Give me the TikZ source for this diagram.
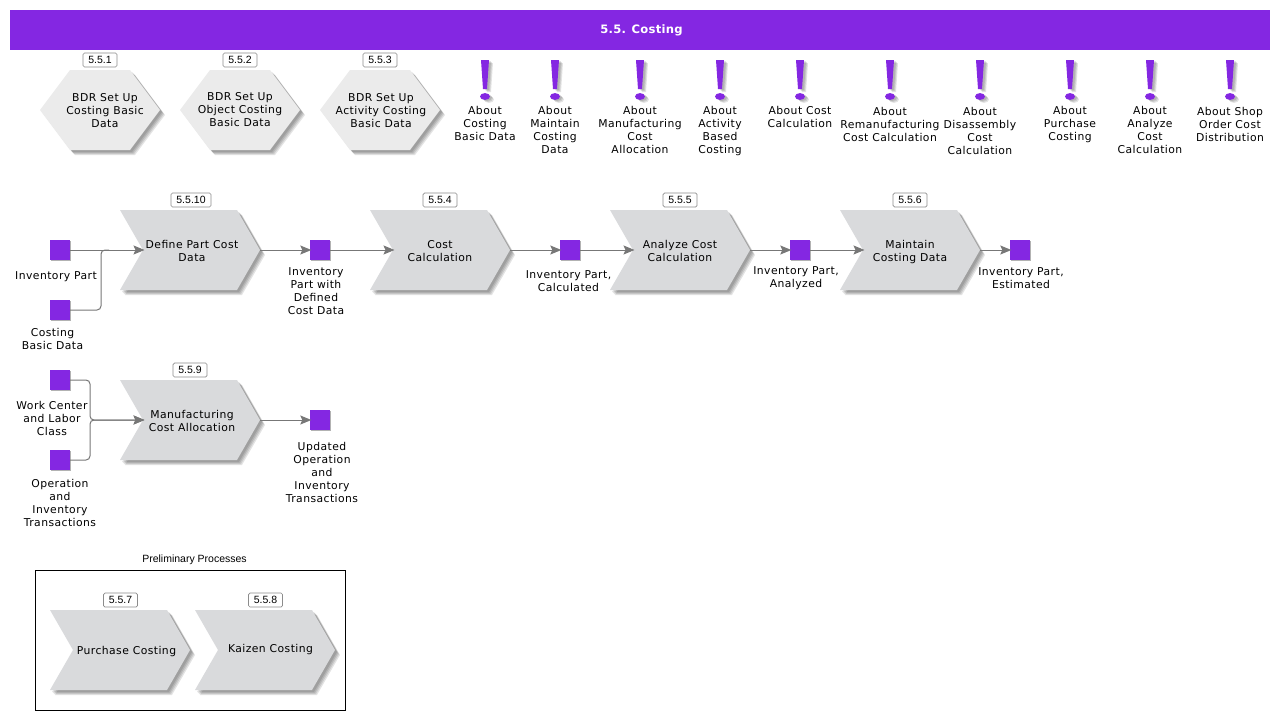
\documentclass[tikz,border=0pt]{standalone}
\usepackage{fontspec}
\setmainfont{DejaVu Sans}[LetterSpace=4]
\newfontfamily\titlefont{DejaVu Sans}[LetterSpace=2]
\newfontfamily\tagfont{Liberation Sans}
\usetikzlibrary{arrows.meta,calc}
\definecolor{brand}{HTML}{8427E2}
\definecolor{chevfill}{HTML}{D9DADC}
\definecolor{hexfill}{HTML}{EBEBEB}
\definecolor{wire}{HTML}{777777}
\tikzset{
  lab/.style={align=center,inner sep=0pt,font=\fontsize{10.8}{13}\selectfont,text=black},
  tagbox/.style={draw=black!45,fill=white,rounded corners=1.5pt,line width=.7pt,minimum height=14pt,inner sep=0pt,font=\tagfont\fontsize{10.5}{12}\selectfont},
  wired/.style={draw=wire,line width=1pt,-{Stealth[length=11pt,width=9pt,inset=2pt,fill=wire]},rounded corners=4pt,shorten >=-1.5pt},
  wireplain/.style={draw=wire,line width=1pt,rounded corners=4pt},
  sq/.style={fill=brand,draw=none,minimum size=20pt,inner sep=0pt},
  softlayer/.style={fill=black,opacity=.11}
}
\newcommand\softshadow[1]{%
  \foreach \sd in {2,3,4,5}{\fill[softlayer,xshift=\sd pt,yshift=-\sd pt] #1;}%
}
\newcommand\softsmall[1]{%
  \foreach \sd in {1,2,3}{\fill[softlayer,xshift=\sd pt+1pt,yshift=-\sd pt] #1;}%
}
% name, left x, top y, text x, text y, text
\newcommand\chev[6]{%
  \softshadow{(#2,#3)--++(117,0)--++(23,40)--++(-23,40)--++(-117,0)--++(23,-40)--cycle}
  \fill[chevfill] (#2,#3)--++(117,0)--++(23,40)--++(-23,40)--++(-117,0)--++(23,-40)--cycle;
  \coordinate (#1-in) at ($(#2,#3)+(23,40)$);
  \coordinate (#1-out) at ($(#2,#3)+(140,40)$);
  \node[lab] (#1-text) at (#4,#5) {#6};
}
\newcommand\hexa[5]{%
  \softshadow{(#2,110)--++(30,-40)--++(60,0)--++(30,40)--++(-30,40)--++(-60,0)--cycle}
  \fill[hexfill] (#2,110)--++(30,-40)--++(60,0)--++(30,40)--++(-30,40)--++(-60,0)--cycle;
  \node[lab] (#1) at (#3,#4) {#5};
}
\newcommand\tagg[4]{\node[tagbox,minimum width=#3pt] (#1) at (#2) {#4};}
\newcommand\bang[4]{%
  \softsmall{(#2-4,60)--(#2+4,60)--(#2+2,89)--(#2-2,89)--cycle}
  \softsmall{(#2,96.5) ellipse (5 and 3.4)}
  \fill[brand] (#2-4,60)--(#2+4,60)--(#2+2,89)--(#2-2,89)--cycle;
  \fill[brand] (#2,96.5) ellipse (5 and 3.4);
  \node[lab] (#1-text) at (#2,#3) {#4};
}
\newcommand\obj[3]{%
  \fill[black!30] (#2-9,#3-9) rectangle (#2+11,#3+11);
  \node[sq] (#1) at (#2,#3) {};
}
\begin{document}
\begin{tikzpicture}[x=1pt,y=-1pt]
\useasboundingbox (0,0) rectangle (1280,720);
\fill[white] (0,0) rectangle (1280,720);
\node[fill=brand,minimum width=1260pt,minimum height=40pt,inner sep=0pt] (titlebar) at (640,30) {};
\node[text=white,inner sep=0pt,font=\titlefont\fontsize{11.6}{14}\selectfont\bfseries] (title) at (641.5,30.5) {5.5. Costing};

\hexa{h1}{40}{105}{110.5}{BDR Set Up\\Costing Basic\\Data}
\hexa{h2}{180}{240}{109.5}{BDR Set Up\\Object Costing\\Basic Data}
\hexa{h3}{320}{381}{110.5}{BDR Set Up\\Activity Costing\\Basic Data}
\tagg{t1}{100,60}{34}{5.5.1}
\tagg{t2}{240,60}{34}{5.5.2}
\tagg{t3}{380,60}{34}{5.5.3}

\bang{b1}{485}{123}{About\\Costing\\Basic Data}
\bang{b2}{555}{129.5}{About\\Maintain\\Costing\\Data}
\bang{b3}{640}{129.5}{About\\Manufacturing\\Cost\\Allocation}
\bang{b4}{720}{131.5}{About\\Activity\\Based\\Costing}
\bang{b5}{800}{116.5}{About Cost\\Calculation}
\bang{b6}{890}{124.5}{About\\Remanufacturing\\Cost Calculation}
\bang{b7}{980}{130.5}{About\\Disassembly\\Cost\\Calculation}
\bang{b8}{1070}{125}{About\\Purchase\\Costing}
\bang{b9}{1150}{129.5}{About\\Analyze\\Cost\\Calculation}
\bang{b10}{1230}{124.5}{About Shop\\Order Cost\\Distribution}

\chev{c10}{120}{210}{192}{251}{Define Part Cost\\Data}
\chev{c4}{370}{210}{440}{251}{Cost\\Calculation}
\chev{c5}{610}{210}{680}{251}{Analyze Cost\\Calculation}
\chev{c6}{840}{210}{910}{252}{Maintain\\Costing Data}
\chev{c9}{120}{380}{192}{421}{Manufacturing\\Cost Allocation}
\tagg{t10}{191,200}{40}{5.5.10}
\tagg{t4}{440,200}{34}{5.5.4}
\tagg{t5}{680,200}{34}{5.5.5}
\tagg{t6}{910,200}{34}{5.5.6}
\tagg{t9}{190,370}{34}{5.5.9}

\obj{o1}{60}{250}
\obj{o2}{60}{310}
\obj{o3}{320}{250}
\obj{o4}{570}{250}
\obj{o5}{800}{250}
\obj{o6}{1020}{250}
\obj{o7}{60}{380}
\obj{o8}{60}{460}
\obj{o9}{320}{420}
\node[lab] (l1) at (56,277) {Inventory Part};
\node[lab] (l2) at (52.5,339) {Costing\\Basic Data};
\node[lab] (l3) at (316,291.5) {Inventory\\Part with\\Defined\\Cost Data};
\node[lab] (l4) at (568.5,281) {Inventory Part,\\Calculated};
\node[lab] (l5) at (796,278) {Inventory Part,\\Analyzed};
\node[lab] (l6) at (1021,278) {Inventory Part,\\Estimated};
\node[lab] (l7) at (52,418.5) {Work Center\\and Labor\\Class};
\node[lab] (l8) at (60,503) {Operation\\and\\Inventory\\Transactions};
\node[lab] (l9) at (322,472) {Updated\\Operation\\and\\Inventory\\Transactions};

\draw[wired] (o1.east) -- (c10-in);
\draw[wireplain] (o2.east) -- (101,310) -- (101,250) -- ($(101,250)+(8,0)$);
\draw[wired] (c10-out) -- (o3.west);
\draw[wired] (o3.east) -- (c4-in);
\draw[wired] (c4-out) -- (o4.west);
\draw[wired] (o4.east) -- (c5-in);
\draw[wired] (c5-out) -- (o5.west);
\draw[wired] (o5.east) -- (c6-in);
\draw[wired] (c6-out) -- (o6.west);
\draw[wired] (o7.east) -- (90,380) -- (90,420) -- (c9-in);
\draw[wired] (o8.east) -- (90,460) -- (90,420) -- (c9-in);
\draw[wired] (c9-out) -- (o9.west);

\node[font=\tagfont\fontsize{10.5}{12}\selectfont,inner sep=0pt] (pp) at (194.5,560) {Preliminary Processes};
\draw[black,line width=.8pt] (35.5,570.5) rectangle (345.5,710.5);
\chev{c7}{50}{610}{126.5}{652}{Purchase Costing}
\chev{c8}{195}{610}{270.5}{650}{Kaizen Costing}
\tagg{t7}{120.5,600}{34}{5.5.7}
\tagg{t8}{265.5,600}{34}{5.5.8}
\end{tikzpicture}
\end{document}
